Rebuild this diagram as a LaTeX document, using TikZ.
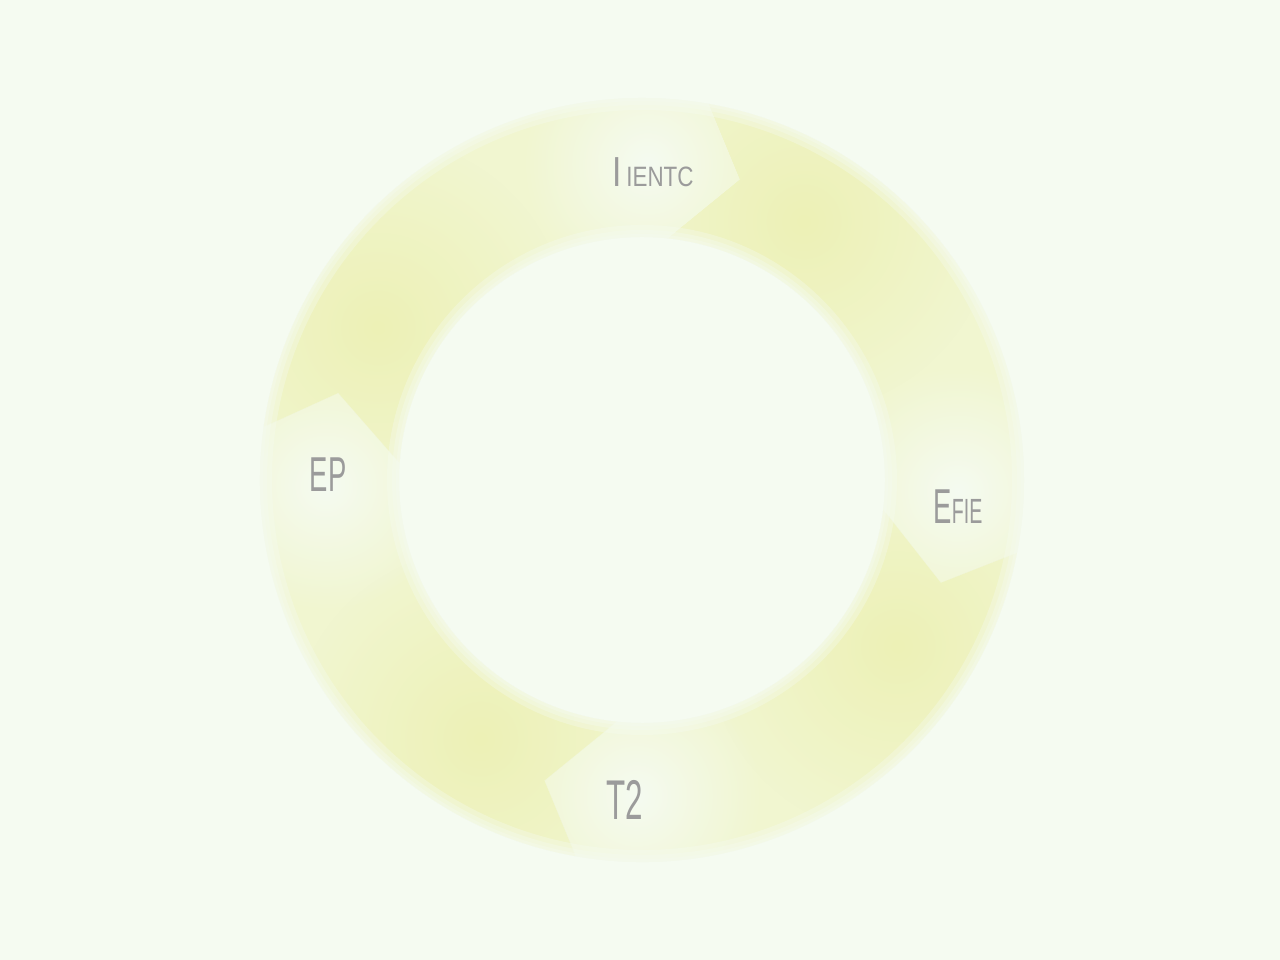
\documentclass[tikz,border=0pt]{standalone}
\usepackage{fontspec}
\newfontfamily\labfont[FakeStretch=0.56]{Liberation Sans}
\newfontfamily\labwide[FakeStretch=0.8]{Liberation Sans}
\usetikzlibrary{fadings}
\tikzfading[name=softblob, inner color=transparent!0, outer color=transparent!100]
\definecolor{bg}{RGB}{245,251,241}
\definecolor{seglight}{RGB}{241,246,208}
\definecolor{segdark}{RGB}{237,241,182}
\definecolor{labgray}{RGB}{155,155,155}
\begin{document}
\begin{tikzpicture}[x=1pt,y=1pt,
  lab/.style={text=labgray, inner sep=0pt, anchor=center},
  softedge/.style={draw=bg, line width=#1, opacity=0.35}]
\fill[bg] (0,0) rectangle (1280,960);
\useasboundingbox (0,0) rectangle (1280,960);
\begin{scope}[shift={(642,480)}]
\foreach \a/\b in {80/-11,-11/-100,-100/-188,172/80}{
  \begin{scope}
    \clip (\a:382pt) arc[start angle=\a, end angle=\b, radius=382pt]
      -- ({\b-8}:316pt) -- ({\b+4}:243pt)
      arc[start angle={\b+4}, end angle={\a+4}, radius=243pt]
      -- ({\a-8}:316pt) -- cycle;
    \fill[seglight] (-700pt,-700pt) rectangle (700pt,700pt);
    \fill[segdark, path fading=softblob] ({\a-22}:305pt) circle[radius=190pt];
    \fill[bg, path fading=softblob] ({\b+9}:316pt) circle[radius=125pt];
  \end{scope}
}
% soft edges of the ring
\foreach \w in {6pt,14pt,24pt}{
  \draw[softedge=\w] (0,0) circle[radius=382pt];
  \draw[softedge=\w] (0,0) circle[radius=243pt];
}
\end{scope}
\node[lab] (top) at (653,788) {\labwide\fontsize{42}{42}\selectfont I\fontsize{28}{28}\selectfont\,IENTC};
\node[lab] (right) at (958,453) {\labfont\fontsize{49}{49}\selectfont E\fontsize{35}{35}\selectfont FIE};
\node[lab] (left) at (328,485) {\labfont\fontsize{49}{49}\selectfont EP};
\node[lab] (bottom) at (625,160) {\labfont\fontsize{56}{56}\selectfont T2};
\end{tikzpicture}
\end{document}
